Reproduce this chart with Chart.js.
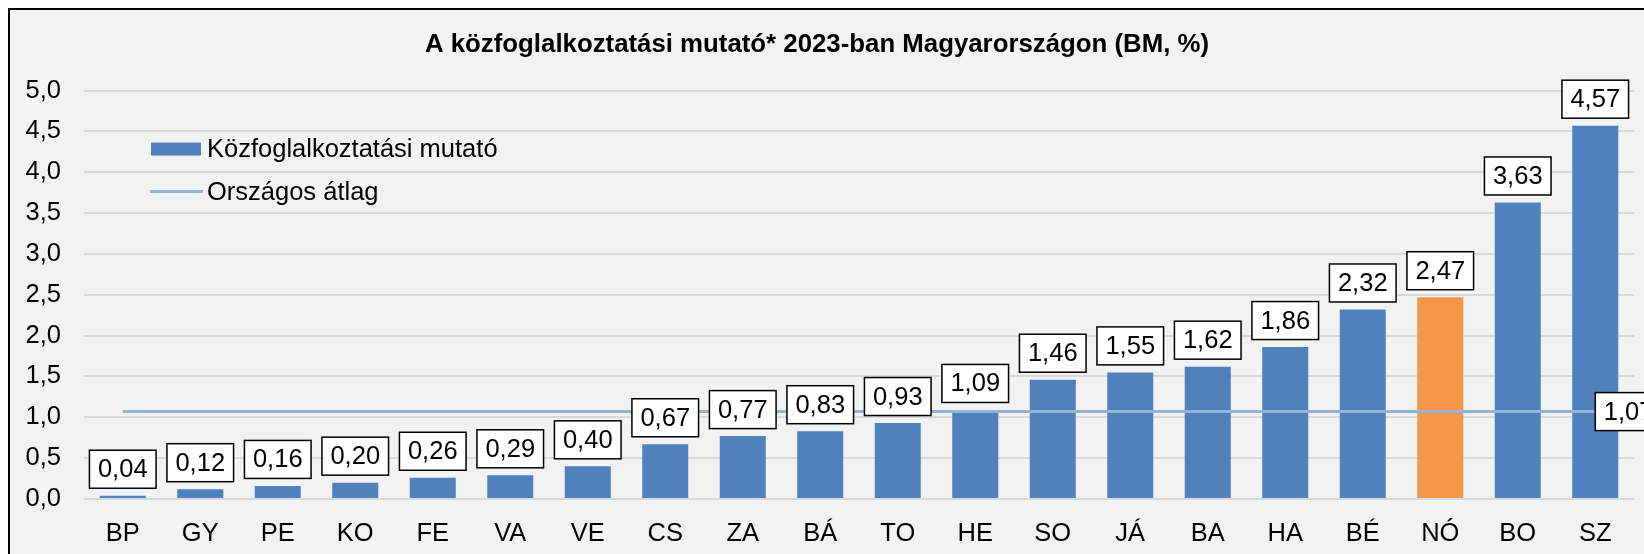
<!DOCTYPE html>
<html>
<head>
<meta charset="utf-8">
<script src="https://cdn.jsdelivr.net/npm/chart.js@4"></script>
<style>
  html, body { margin: 0; padding: 0; width: 1644px; height: 554px; overflow: hidden; background: #ffffff; }
  #frame { position: absolute; left: 8px; top: 8px; width: 1720px; height: 620px;
           border-left: 2px solid #000; border-top: 2px solid #000; background: #F2F2F2; }
  #c { position: absolute; left: 0; top: 0; }
</style>
</head>
<body>
<div id="frame"></div>
<canvas id="c" width="1644" height="554"></canvas>
<script>
const titleText = 'A közfoglalkoztatási mutató* 2023-ban Magyarországon (BM, %)';
const categories = ['BP','GY','PE','KO','FE','VA','VE','CS','ZA','BÁ','TO','HE','SO','JÁ','BA','HA','BÉ','NÓ','BO','SZ'];
const indicatorValues = [0.04,0.12,0.16,0.20,0.26,0.29,0.40,0.67,0.77,0.83,0.93,1.09,1.46,1.55,1.62,1.86,2.32,2.47,3.63,4.57];
const nationalAverage = 1.07;
const highlightedCategory = 'NÓ';
const seriesNames = ['Közfoglalkoztatási mutató', 'Országos átlag'];
const yMin = 0, yMax = 5, yStep = 0.5;

const FONT = "'Liberation Sans', Arial, sans-serif";
const BLUE = '#4F81BD', ORANGE = '#F79646', AVG = '#95B3D7';

const fmt = (v, d) => v.toFixed(d).replace('.', ',');

const labelPlugin = {
  id: 'valueLabels',
  afterDatasetsDraw(chart) {
    const ctx = chart.ctx;
    ctx.save();
    ctx.font = '25.5px ' + FONT;
    ctx.textAlign = 'center';
    ctx.textBaseline = 'middle';
    const boxH = 38, padX = 8.5;
    const drawBox = (text, left, top) => {
      const w = ctx.measureText(text).width + padX * 2;
      ctx.fillStyle = '#ffffff';
      ctx.fillRect(left, top, w, boxH);
      ctx.lineWidth = 1.5;
      ctx.strokeStyle = '#000';
      ctx.strokeRect(left, top, w, boxH);
      ctx.fillStyle = '#000';
      ctx.fillText(text, left + w / 2, top + boxH / 2 + 1);
      return w;
    };
    const barMeta = chart.getDatasetMeta(0);
    barMeta.data.forEach((el, i) => {
      const text = fmt(indicatorValues[i], 2);
      const w = ctx.measureText(text).width + padX * 2;
      drawBox(text, el.x - w / 2, el.y - 7.5 - boxH);
    });
    const lineMeta = chart.getDatasetMeta(1);
    const last = lineMeta.data[lineMeta.data.length - 1];
    drawBox(fmt(nationalAverage, 2), last.x, last.y - boxH / 2);
    ctx.restore();
  }
};

const legendPlugin = {
  id: 'customLegend',
  afterDraw(chart) {
    const ctx = chart.ctx;
    const ca = chart.chartArea;
    const x0 = ca.left + 67, y1 = ca.top + 58.5, y2 = ca.top + 101;
    ctx.save();
    ctx.fillStyle = BLUE;
    ctx.fillRect(x0, y1 - 6.5, 50, 13);
    ctx.strokeStyle = AVG;
    ctx.lineWidth = 3;
    ctx.beginPath();
    ctx.moveTo(x0 - 1, y2);
    ctx.lineTo(x0 + 52, y2);
    ctx.stroke();
    ctx.fillStyle = '#000';
    ctx.font = '25.5px ' + FONT;
    ctx.textAlign = 'left';
    ctx.textBaseline = 'middle';
    ctx.fillText(seriesNames[0], x0 + 56, y1 + 1);
    ctx.fillText(seriesNames[1], x0 + 56, y2 + 1);
    ctx.restore();
  }
};

new Chart(document.getElementById('c'), {
  data: {
    labels: categories,
    datasets: [
      {
        type: 'bar',
        label: seriesNames[0],
        data: indicatorValues,
        backgroundColor: categories.map(c => c === highlightedCategory ? ORANGE : BLUE),
        borderWidth: 0,
        barPercentage: 0.594,
        categoryPercentage: 1,
        order: 1
      },
      {
        type: 'line',
        label: seriesNames[1],
        data: categories.map(() => nationalAverage),
        borderColor: AVG,
        borderWidth: 3,
        pointRadius: 0,
        fill: false,
        order: 0
      }
    ]
  },
  options: {
    responsive: false,
    animation: false,
    layout: { padding: { left: 0, right: 10, top: 0, bottom: 0 } },
    plugins: {
      legend: { display: false },
      tooltip: { enabled: false },
      title: {
        display: true,
        text: titleText,
        color: '#000',
        font: { family: FONT, size: 25.8, weight: 'bold', lineHeight: 1.2 },
        padding: { top: 29, bottom: 30.6 }
      }
    },
    scales: {
      x: {
        grid: { display: false },
        border: { display: false },
        ticks: { color: '#000', font: { family: FONT, size: 25.5, lineHeight: 1.2 }, padding: 12, maxRotation: 0, autoSkip: false },
        afterFit: s => { s.height = 55; }
      },
      y: {
        min: yMin, max: yMax,
        grid: { color: '#D9D9D9', lineWidth: 2, drawTicks: false },
        border: { display: false },
        ticks: { stepSize: yStep, color: '#000', font: { family: FONT, size: 25.5 }, padding: 23,
                 callback: v => fmt(v, 1) },
        afterFit: s => { s.width = 84; }
      }
    }
  },
  plugins: [labelPlugin, legendPlugin]
});
</script>
</body>
</html>
